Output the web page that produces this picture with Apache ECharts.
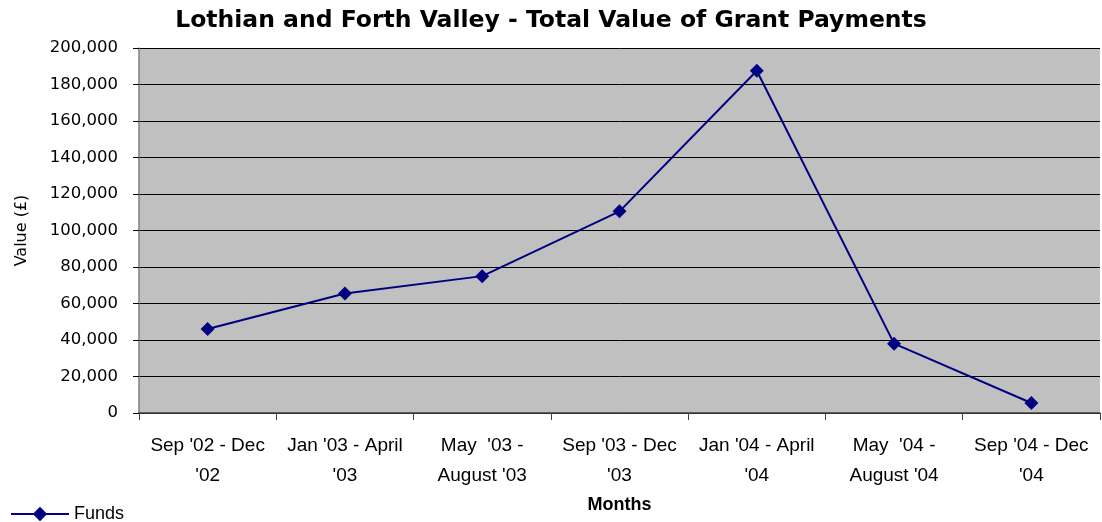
<!DOCTYPE html>
<html>
<head>
<meta charset="utf-8">
<script src="https://cdn.jsdelivr.net/npm/echarts@6/dist/echarts.min.js"></script>
<style>
  html, body { margin: 0; padding: 0; background: #ffffff; }
  #chart { width: 1102px; height: 522px; }
</style>
</head>
<body>
<div id="chart"></div>
<script>
const categories = [
  "Sep '02 - Dec\n'02",
  "Jan '03 - April\n'03",
  "May  '03 -\nAugust '03",
  "Sep '03 - Dec\n'03",
  "Jan '04 - April\n'04",
  "May  '04 -\nAugust '04",
  "Sep '04 - Dec\n'04"
];
const funds = [46000, 65500, 75000, 110500, 187500, 38000, 5500];
const yTicks = { min: 0, max: 200000, interval: 20000 };

const myChart = echarts.init(document.getElementById("chart"));
const option = {
  backgroundColor: "#ffffff",
  animation: false,
  title: {
    text: "Lothian and Forth Valley - Total Value of Grant Payments",
    left: "center",
    top: 4,
    textStyle: { fontFamily: "DejaVu Sans", fontSize: 23.5, fontWeight: "bold", color: "#000" }
  },
  legend: {
    left: 5,
    top: 500,
    itemWidth: 58,
    itemHeight: 18,
    itemGap: 5,
    textStyle: { fontFamily: "Liberation Sans", fontSize: 18, color: "#000" },
    data: ["Funds"]
  },
  grid: {
    left: 139,
    right: 2,
    top: 48,
    bottom: 109,
    show: true,
    backgroundColor: "#c0c0c0",
    borderWidth: 0
  },
  xAxis: {
    type: "category",
    data: categories,
    boundaryGap: true,
    name: "Months",
    nameLocation: "middle",
    nameGap: 80,
    nameTextStyle: { fontFamily: "Liberation Sans", fontSize: 18, fontWeight: "bold", color: "#000" },
    axisLine: { lineStyle: { color: "#404040", width: 1.5 } },
    axisTick: { show: true, length: 7, lineStyle: { color: "#404040" } },
    axisLabel: {
      interval: 0,
      margin: 18,
      fontFamily: "Liberation Sans",
      fontSize: 19,
      lineHeight: 30,
      color: "#000"
    },
    splitLine: { show: false }
  },
  yAxis: {
    type: "value",
    min: yTicks.min,
    max: yTicks.max,
    interval: yTicks.interval,
    name: "Value (£)",
    nameLocation: "middle",
    nameGap: 109,
    nameTextStyle: { fontFamily: "DejaVu Sans", fontSize: 16, color: "#000" },
    axisLine: { show: true, lineStyle: { color: "#808080", width: 1.5 } },
    axisTick: { show: true, length: 6, lineStyle: { color: "#000" } },
    axisLabel: {
      margin: 21,
      fontFamily: "DejaVu Sans",
      fontSize: 16.5,
      color: "#000",
      formatter: v => v.toLocaleString("en-US")
    },
    splitLine: { show: true, lineStyle: { color: "#000", width: 1 } }
  },
  series: [
    {
      name: "Funds",
      type: "line",
      data: funds,
      symbol: "diamond",
      symbolSize: 14,
      lineStyle: { color: "#000080", width: 2 },
      itemStyle: { color: "#000080" }
    }
  ]
};
myChart.setOption(option);
</script>
</body>
</html>
